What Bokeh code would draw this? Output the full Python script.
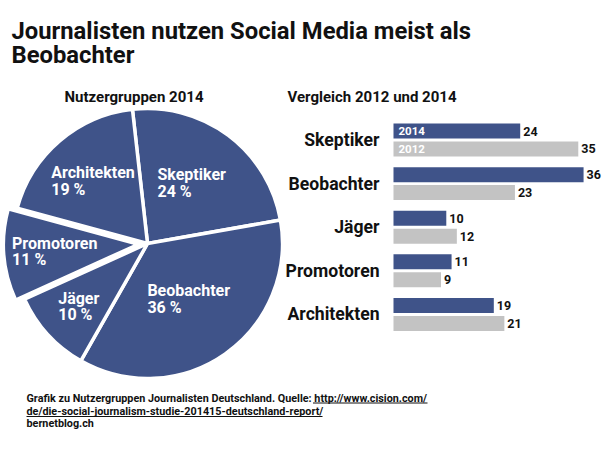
import math
from bokeh.plotting import figure
from bokeh.models import Range1d, ColumnDataSource
from bokeh.core.properties import value
from bokeh.embed import file_html
from bokeh.resources import INLINE

# ---------------- data ----------------
title_lines = ["Journalisten nutzen Social Media meist als", "Beobachter"]
pie_title = "Nutzergruppen 2014"
bar_title = "Vergleich 2012 und 2014"
categories = ["Skeptiker", "Beobachter", "Jäger", "Promotoren", "Architekten"]
share_2014 = [24, 36, 10, 11, 19]
share_2012 = [35, 23, 12, 9, 21]
year_labels = ["2014", "2012"]
footnote_lines = [
    "Grafik zu Nutzergruppen Journalisten Deutschland. Quelle: http://www.cision.com/",
    "de/die-social-journalism-studie-201415-deutschland-report/",
    "bernetblog.ch",
]

# ---------------- style / layout ----------------
FONT = value("Roboto")
BLUE = "#3f5389"
GRAY = "#c3c3c3"
INK = "#111111"
W, H = 610, 456

p = figure(width=W, height=H, x_range=Range1d(0, W), y_range=Range1d(0, H),
           output_backend="svg", toolbar_location=None, min_border=0,
           x_axis_location=None, y_axis_location=None)
p.grid.visible = False
p.outline_line_color = None
p.background_fill_color = "white"
p.border_fill_color = "white"

def txt(x, y, s, size, color=INK, align="left", baseline="middle", **kw):
    p.text(x=[x], y=[y], text=[s], text_font=FONT, text_font_style="bold",
           text_font_size=f"{size}px", text_color=color, text_align=align,
           text_baseline=baseline, **kw)

# titles
txt(11, 426, title_lines[0], 23.8)
txt(11, 402, title_lines[1], 23.8)
txt(64, 359.3, pie_title, 15)
txt(287, 359.3, bar_title, 15)

# ---------------- pie ----------------
cx, cy, R = 147, 213, 135
start_deg = 96.4
explode = [0, 0, 0, 9, 0]
label_r = [0.56, 0.50, 0.69, 0.65, 0.61]
char_w = 7.4

total = sum(share_2014)
a = math.radians(start_deg)
wx, wy, sa, ea, lx, ly_n, ly_p, names, pcts = [], [], [], [], [], [], [], [], []
for i, v in enumerate(share_2014):
    b = a - 2 * math.pi * v / total
    mid = (a + b) / 2
    wx.append(cx + explode[i] * math.cos(mid))
    wy.append(cy + explode[i] * math.sin(mid))
    sa.append(a)
    ea.append(b)
    pct = f"{v} %"
    rr = explode[i] + label_r[i] * R
    cxl = cx + rr * math.cos(mid)
    cyl = cy + rr * math.sin(mid)
    wlab = max(len(categories[i]), len(pct)) * char_w
    lx.append(cxl - wlab / 2 - 2)
    ly_n.append(cyl + 8)
    ly_p.append(cyl - 8.5)
    names.append(categories[i])
    pcts.append(pct)
    a = b

pie_src = ColumnDataSource(dict(x=wx, y=wy, start=sa, end=ea))
p.wedge(x="x", y="y", radius=R, start_angle="start", end_angle="end",
        direction="clock", fill_color=BLUE, line_color="white", line_width=3.5,
        source=pie_src)

lab_src = ColumnDataSource(dict(x=lx, yn=ly_n, yp=ly_p, name=names, pct=pcts))
for yfield, tfield in (("yn", "name"), ("yp", "pct")):
    p.text(x="x", y=yfield, text=tfield, source=lab_src, text_font=FONT,
           text_font_style="bold", text_font_size="16px", text_color="white",
           text_align="left", text_baseline="middle")

# ---------------- bars ----------------
p.extra_x_ranges = {"bx": Range1d(-74.43, 41.10)}
p.extra_y_ranges = {"by": Range1d(7.259, -3.200)}
dodge = 0.206
bar_h = 0.344
idx = list(range(len(categories)))
y14 = [i - dodge for i in idx]
y12 = [i + dodge for i in idx]

bsrc = ColumnDataSource(dict(y14=y14, y12=y12, v14=share_2014, v12=share_2012,
                             t14=[str(v) for v in share_2014],
                             t12=[str(v) for v in share_2012],
                             yc=idx, cat=categories))
p.hbar(y="y14", left=0, right="v14", height=bar_h, fill_color=BLUE, line_color=None,
       source=bsrc, x_range_name="bx", y_range_name="by")
p.hbar(y="y12", left=0, right="v12", height=bar_h, fill_color=GRAY, line_color=None,
       source=bsrc, x_range_name="bx", y_range_name="by")
for xf, yf, tf in (("v14", "y14", "t14"), ("v12", "y12", "t12")):
    p.text(x=xf, y=yf, text=tf, source=bsrc, x_offset=3, text_font=FONT,
           text_font_style="bold", text_font_size="12.5px", text_color=INK,
           text_align="left", text_baseline="middle",
           x_range_name="bx", y_range_name="by")
p.text(x=0, y="yc", text="cat", source=bsrc, x_offset=-14, text_font=FONT,
       text_font_style="bold", text_font_size="17.6px", text_color=INK,
       text_align="right", text_baseline="middle",
       x_range_name="bx", y_range_name="by")
p.text(x=[0, 0], y=[y14[0], y12[0]], text=year_labels, x_offset=5, text_font=FONT,
       text_font_style="bold", text_font_size="11.5px", text_color="white",
       text_align="left", text_baseline="middle",
       x_range_name="bx", y_range_name="by")

# ---------------- footnote ----------------
for s, ym in zip(footnote_lines, (57.7, 44.8, 33.5)):
    txt(26, ym, s, 10.8)
p.segment(x0=[312.5, 26], y0=[53.5, 40], x1=[427, 322], y1=[53.5, 40],
          line_color=INK, line_width=1)

open("out.html", "w").write(file_html(p, INLINE))
